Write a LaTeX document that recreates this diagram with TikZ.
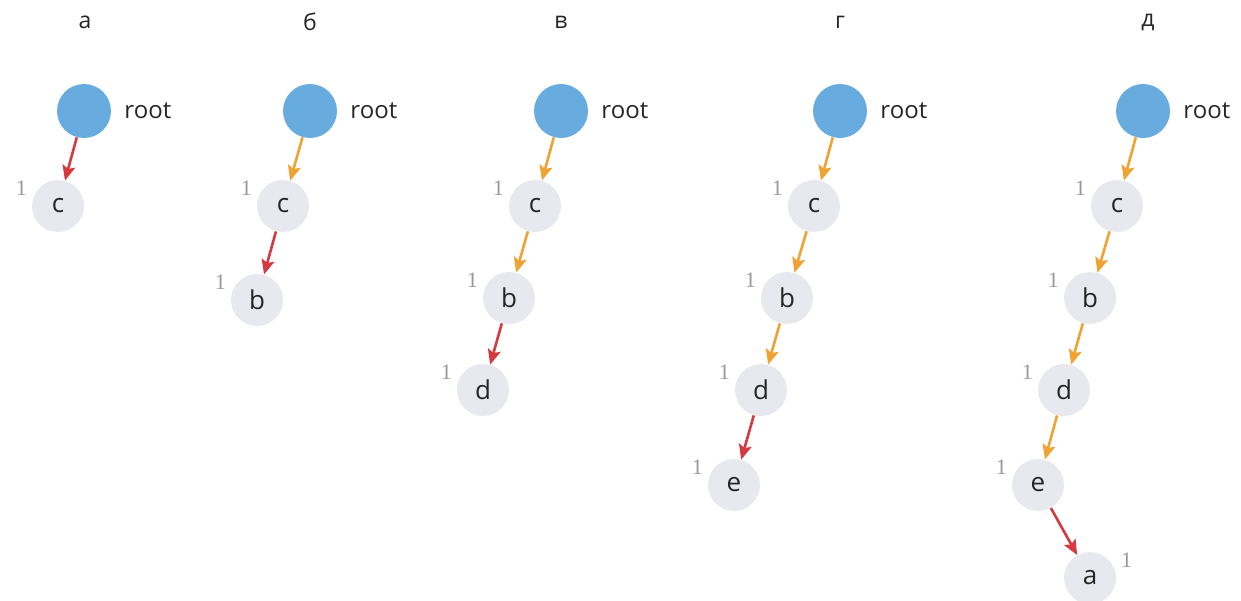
\documentclass[tikz,border=0pt]{standalone}
\usepackage{fontspec}
\setmainfont{Open Sans}
\newfontfamily\cntfont{Liberation Serif}
\usetikzlibrary{arrows.meta}

\definecolor{rootblue}{HTML}{68ACDF}
\definecolor{nodegray}{HTML}{E8E9EF}
\definecolor{newred}{HTML}{D63A40}
\definecolor{oldorange}{HTML}{F0A232}

\tikzset{
  rootnode/.style={circle,fill=rootblue,minimum size=27pt,inner sep=0pt},
  trie/.style={circle,fill=nodegray,minimum size=26pt,inner sep=0pt,
    font=\fontsize{13}{15}\selectfont,text=black!85},
  cnt/.style={font=\cntfont\fontsize{11}{13}\selectfont,text=gray!80},
  leftcnt/.style={label={[cnt,label distance=-1pt]172:1}},
  rightcnt/.style={label={[cnt,label distance=-1pt]9:1}},
  newedge/.style={draw=newred,line width=1.3pt,-{Stealth[length=7.5pt,width=6.5pt,inset=1.5pt]}},
  oldedge/.style={draw=oldorange,line width=1.3pt,-{Stealth[length=7.5pt,width=6.5pt,inset=1.5pt]}},
  rootlbl/.style={right,xshift=3pt,font=\fontsize{12}{14}\selectfont,text=black!85},
  title/.style={font=\fontsize{11.5}{13}\selectfont,text=black!85}
}

\begin{document}
\begin{tikzpicture}[x=0.5pt,y=-0.5pt]
  \useasboundingbox (0,0) rectangle (1241,600);

  % titles
  \node[title] (t1) at (85,22) {а};
  \node[title] (t2) at (310,22) {б};
  \node[title] (t3) at (561,22) {в};
  \node[title] (t4) at (840,22) {г};
  \node[title] (t5) at (1148,22) {д};

  % a
  \node[rootnode] (r1) at (84,111) {};
  \node[rootlbl] at (r1.east) {root};
  \node[trie,leftcnt] (c1) at (58,206) {c};
  \draw[newedge] (r1) -- (c1);

  % b
  \node[rootnode] (r2) at (310,111) {};
  \node[rootlbl] at (r2.east) {root};
  \node[trie,leftcnt] (c2) at (283,206) {c};
  \node[trie,leftcnt] (b2) at (257,300) {b};
  \draw[oldedge] (r2) -- (c2);
  \draw[newedge] (c2) -- (b2);

  % c
  \node[rootnode] (r3) at (561,111) {};
  \node[rootlbl] at (r3.east) {root};
  \node[trie,leftcnt] (c3) at (535,206) {c};
  \node[trie,leftcnt] (b3) at (509,298) {b};
  \node[trie,leftcnt] (d3) at (483,390) {d};
  \draw[oldedge] (r3) -- (c3);
  \draw[oldedge] (c3) -- (b3);
  \draw[newedge] (b3) -- (d3);

  % d
  \node[rootnode] (r4) at (840,111) {};
  \node[rootlbl] at (r4.east) {root};
  \node[trie,leftcnt] (c4) at (814,206) {c};
  \node[trie,leftcnt] (b4) at (787,298) {b};
  \node[trie,leftcnt] (d4) at (761,390) {d};
  \node[trie,leftcnt] (e4) at (734,485) {e};
  \draw[oldedge] (r4) -- (c4);
  \draw[oldedge] (c4) -- (b4);
  \draw[oldedge] (b4) -- (d4);
  \draw[newedge] (d4) -- (e4);

  % e
  \node[rootnode] (r5) at (1143,111) {};
  \node[rootlbl] at (r5.east) {root};
  \node[trie,leftcnt] (c5) at (1117,206) {c};
  \node[trie,leftcnt] (b5) at (1090,298) {b};
  \node[trie,leftcnt] (d5) at (1064,390) {d};
  \node[trie,leftcnt] (e5) at (1038,485) {e};
  \node[trie,rightcnt] (a5) at (1090,578) {a};
  \draw[oldedge] (r5) -- (c5);
  \draw[oldedge] (c5) -- (b5);
  \draw[oldedge] (b5) -- (d5);
  \draw[oldedge] (d5) -- (e5);
  \draw[newedge] (e5) -- (a5);
\end{tikzpicture}
\end{document}
